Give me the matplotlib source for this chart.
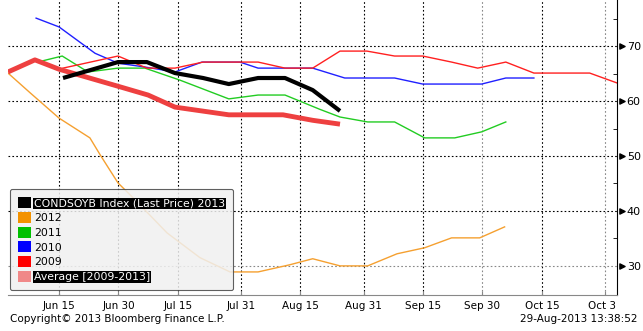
import matplotlib.pyplot as plt
from matplotlib.patches import Patch
from matplotlib.transforms import Bbox, TransformedBbox

# x = days after Jun 15 2013 (seasonal axis), y = price
avg_x = [-12.9, -6.1, 0, 14.9, 22.5, 29.3, 42.9, 56.6, 64.1, 71]
avg_y = [65.3, 67.5, 65.8, 62.7, 61.1, 58.9, 57.5, 57.5, 56.5, 55.8]

y2013_x = [1.0, 14.9, 22.2, 29.3, 36.4, 42.9, 50.3, 57.1, 64.1, 71]
y2013_y = [64.2, 67.1, 67.1, 65.1, 64.2, 63.1, 64.2, 64.2, 62.0, 58.2]

y2012_x = [-12.9, -7.3, 0, 7.8, 10.4, 14.9, 18.7, 27.3, 35.6, 43.2, 50.3, 58.3, 64.1,
           71, 78, 85.4, 92.4, 99.2, 106.3, 112.6]
y2012_y = [65.1, 61.5, 56.9, 53.3, 50.2, 45.1, 42.4, 36.0, 31.5, 28.9, 28.9, 30.2, 31.3,
           30.0, 30.0, 32.2, 33.3, 35.1, 35.1, 37.1]

y2011_x = [-6.1, -4.3, 0.8, 7.3, 14.9, 21.7, 30.6, 42.9, 50.3, 57.1, 65.9, 71, 78, 84.8,
           92.4, 100, 106.8, 112.9]
y2011_y = [67.5, 67.3, 68.2, 65.3, 66.0, 66.0, 63.8, 60.4, 61.1, 61.1, 58.5, 57.1, 56.2, 56.2,
           53.3, 53.3, 54.4, 56.2]

y2010_x = [-5.8, 0, 9.1, 14.9, 21.7, 29.3, 36.1, 45.7, 50.3, 64.1, 72.2, 84.8, 91.9, 106.8,
           112.9, 120]
y2010_y = [75.1, 73.5, 68.7, 66.9, 66.2, 65.3, 67.1, 67.1, 66.0, 66.0, 64.2, 64.2, 63.1, 63.1,
           64.2, 64.2]

y2009_x = [1.0, 14.9, 22.2, 29.3, 36.4, 50.3, 57.1, 64.1, 71, 77.8, 84.8, 91.9, 99.2, 105.8,
           112.9, 120, 134.1, 141]
y2009_y = [66.0, 68.2, 66.0, 66.0, 67.1, 67.1, 66.0, 66.0, 69.1, 69.1, 68.2, 68.2, 67.1, 66.0,
           67.1, 65.1, 65.1, 63.3]

tick_days = [0, 15, 30, 46, 61, 77, 92, 107, 122, 138]
tick_labels = ["Jun 15", "Jun 30", "Jul 15", "Jul 31", "Aug 15", "Aug 31",
               "Sep 15", "Sep 30", "Oct 15", "Oct 31"]
y_major = [30, 40, 50, 60, 70]
y_minor = [35, 45, 55, 65, 75]

legend_labels = ["CONDSOYB Index (Last Price) 2013", "2012", "2011", "2010", "2009",
                 "Average [2009-2013]"]
legend_colors = ["#000000", "#f39200", "#00c000", "#0000ff", "#ff0000", "#f08888"]

plt.rcParams["font.family"] = "DejaVu Sans"
plt.rcParams["font.size"] = 7

fig = plt.figure(figsize=(6.43, 3.31), dpi=100)
ax = fig.add_axes([8 / 643, 36 / 331, 609 / 643, 295 / 331])

for d in tick_days:
    col = "#888888" if d in (107, 138) else "black"
    ax.axvline(d, color=col, lw=0.8, ls=(0, (1.5, 2)), zorder=0)
for v in y_major:
    col = "#888888" if v == 30 else "black"
    ax.axhline(v, color=col, lw=0.8, ls=(0, (1.5, 2)), zorder=0)

ax.plot(y2012_x, y2012_y, color="#f5a030", lw=1)
ax.plot(y2011_x, y2011_y, color="#22cc22", lw=1)
ax.plot(y2010_x, y2010_y, color="#2020ff", lw=1)
ax.plot(y2009_x, y2009_y, color="#ff2020", lw=1)
ax.plot(avg_x, avg_y, color="#ee4040", lw=3.5, solid_capstyle="butt")
ax.plot(y2013_x, y2013_y, color="black", lw=3, solid_capstyle="butt")

ax.set_xlim(-12.9, 141)
ax.set_ylim(24.7, 78.4)

ax.spines["left"].set_visible(False)
ax.spines["top"].set_visible(False)
ax.spines["bottom"].set_color("#888888")
ax.spines["right"].set_color("black")

ax.set_xticks(tick_days)
ax.set_xticklabels(tick_labels)
ax.tick_params(axis="x", direction="in", length=3, color="#888888", pad=4, labelsize=7.5)
clip = TransformedBbox(Bbox([[0, -1], [1, 1]]), ax.transAxes)
for lbl in ax.get_xticklabels():
    lbl.set_clip_on(True)
    lbl.set_clip_box(clip)

ax.yaxis.tick_right()
ax.set_yticks(y_major)
ax.set_yticks(y_minor, minor=True)
ax.tick_params(axis="y", which="major", length=0, pad=7, labelsize=8)
ax.tick_params(axis="y", which="minor", direction="in", length=3)
ax.scatter([1.008] * len(y_major), y_major, marker=">", s=14, color="black",
           transform=ax.get_yaxis_transform(), clip_on=False, zorder=5)

handles = [Patch(facecolor=c, edgecolor="none") for c in legend_colors]
leg = ax.legend(handles, legend_labels, loc="lower left", bbox_to_anchor=(2 / 609, 5 / 295),
                borderaxespad=0, fontsize=7.8, handlelength=1.2, handleheight=1.2,
                handletextpad=0.25, labelspacing=0.32, borderpad=0.75, frameon=True,
                fancybox=True, framealpha=0.85, facecolor="#f0f0f0", edgecolor="#444444")
leg.get_frame().set_linewidth(0.8)
for i in (0, 5):
    t = leg.get_texts()[i]
    t.set_color("white")
    t.set_bbox(dict(facecolor="black", edgecolor="none", pad=0.5))

fig.text(10 / 643, 1 - 322 / 331, "Copyright\u00a9 2013 Bloomberg Finance L.P.", fontsize=7.5,
         ha="left", va="baseline")
fig.text(638 / 643, 1 - 322 / 331, "29-Aug-2013 13:38:52", fontsize=7.5,
         ha="right", va="baseline")

fig.savefig("out.png", dpi=100)
